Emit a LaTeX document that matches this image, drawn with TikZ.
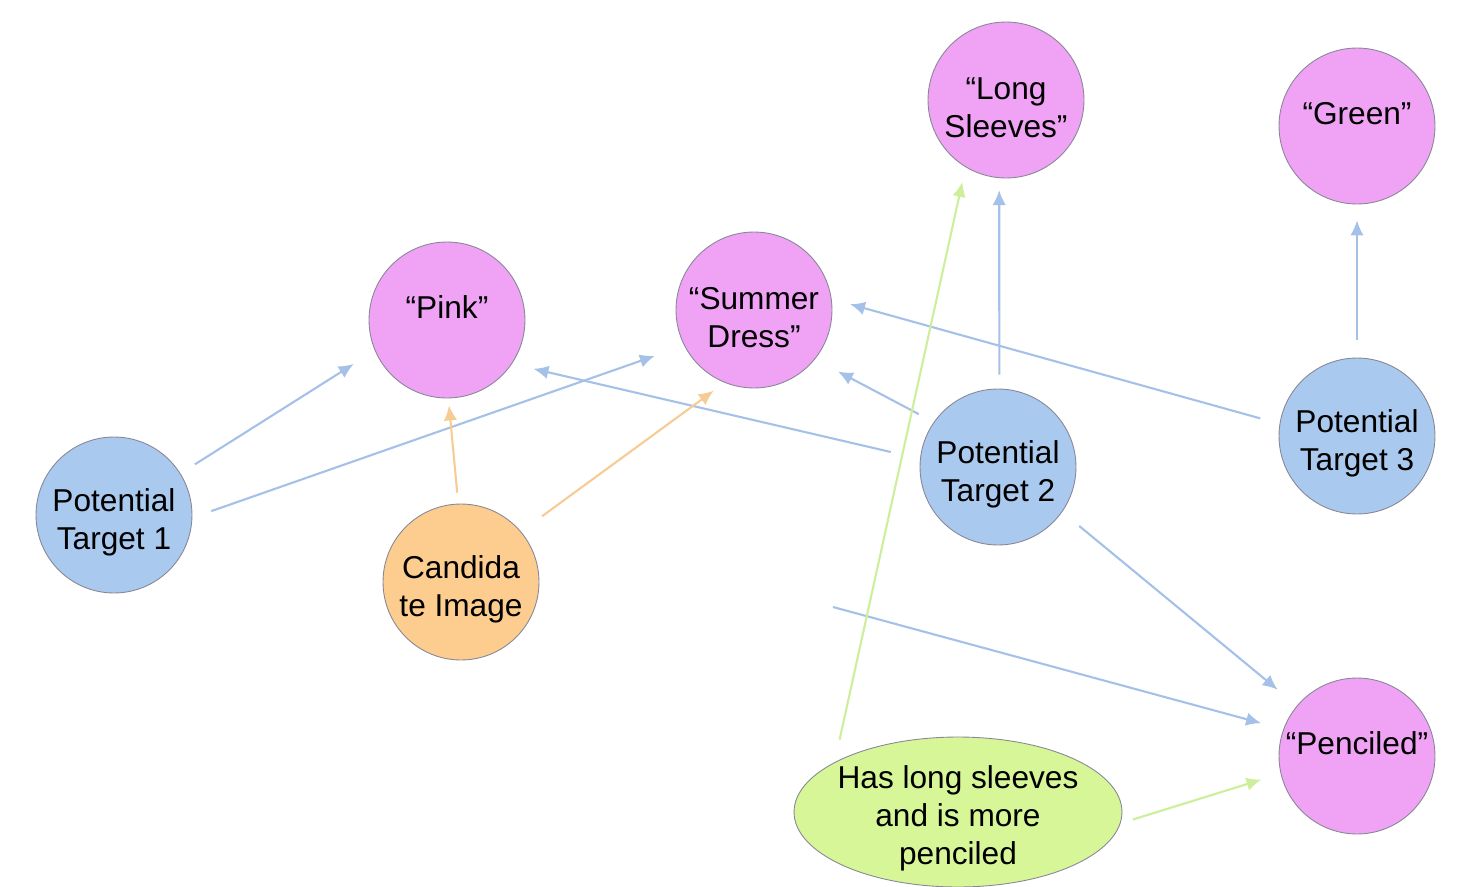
\documentclass[tikz,border=0pt]{standalone}
\usepackage{fontspec}
\setmainfont{Liberation Sans}
\usepackage{xcolor}
\usepackage{tikz}
\usetikzlibrary{arrows.meta,shapes.geometric}

\definecolor{wordfill}{RGB}{240,162,245}
\definecolor{targetfill}{RGB}{170,201,238}
\definecolor{candfill}{RGB}{252,205,142}
\definecolor{notefill}{RGB}{214,246,152}
\definecolor{outl}{RGB}{135,135,150}
\definecolor{bluearr}{RGB}{165,193,232}
\definecolor{orangearr}{RGB}{246,204,148}
\definecolor{greenarr}{RGB}{205,238,155}

% struts that move the text inside its circle
\newcommand{\lowerstrut}[1]{\rule{0pt}{#1}}
\newcommand{\raisestrut}{\rule[-0.52cm]{0pt}{0.52cm}}

\begin{document}
\begin{tikzpicture}[x=0.02cm, y=-0.02cm, ->, >={Latex[length=0.3cm,width=0.27cm]}, line width=1.2pt]
\useasboundingbox (0,0) rectangle (1471,886);
\tikzstyle{every node} = [circle, minimum size=3.12cm, inner sep=0pt, draw=outl, line width=0.5pt, align=center, font=\fontsize{18}{21.6}\selectfont]
\tikzstyle{word} = [fill=wordfill]
\tikzstyle{target} = [fill=targetfill]
\node[word] (1) at (1006,100) {\lowerstrut{0.74cm}“Long\\Sleeves”};
\node[word] (2) at (1357,126) {“Green”\raisestrut};
\node[word] (3) at (447,320) {“Pink”\raisestrut};
\node[word] (4) at (754,310) {\lowerstrut{0.74cm}“Summer\\Dress”};
\node[target] (5) at (114,515) {\lowerstrut{0.74cm}Potential\\Target 1};
\node[fill=candfill] (6) at (461,582) {\lowerstrut{0.74cm}Candida\\te Image};
\node[target] (7) at (998,467) {\lowerstrut{0.74cm}Potential\\Target 2};
\node[target] (8) at (1357,436) {\lowerstrut{0.74cm}Potential\\Target 3};
\node[word] (9) at (1357,756) {“Penciled”\raisestrut};
\node[ellipse, fill=notefill, minimum width=6.56cm, minimum height=3cm, inner xsep=-0.4cm, inner ysep=-0.2cm] (10) at (958,812) {\lowerstrut{0.7cm}Has long sleeves\\and is more\\penciled};
\coordinate (11) at (833,607);
\tikzstyle{every node} = []
% blue arrows
\draw[bluearr, shorten <=0.34cm, shorten >=0.5cm] (5.32) -- (3.203);
\draw[bluearr, shorten <=0.4cm, shorten >=0.62cm] (5.358) -- (4.207);
\draw[bluearr, shorten <=0.6cm, shorten >=0.44cm] (7.174) -- (3.326);
\draw[bluearr, shorten <=0.34cm, shorten >=0.52cm] (7.145) -- (4.321);
\draw[bluearr, shorten <=0.28cm, shorten >=0.24cm] (7.89) -- (1.265);
\draw[bluearr, shorten <=0.4cm, shorten >=0.38cm] (8.171) -- (4.8);
\draw[bluearr, shorten <=0.36cm, shorten >=0.32cm] (8.90) -- (2.270);
\draw[bluearr, shorten <=0.44cm, shorten >=0.5cm] (7.325) -- (9.140);
\draw[bluearr, shorten >=0.46cm] (11) -- (9.160);
% orange arrows
\draw[orangearr, shorten <=0.22cm, shorten >=0.14cm] (6.92) -- (3.271);
\draw[orangearr, shorten <=0.52cm, shorten >=0.27cm] (6.40) -- (4.248);
% green arrows
\draw[greenarr, shorten <=0.46cm, shorten >=0.3cm] (10.158) -- (1.239);
\draw[greenarr, shorten <=0.26cm, shorten >=0.4cm] (10.356) -- (9.193);
\end{tikzpicture}
\end{document}
